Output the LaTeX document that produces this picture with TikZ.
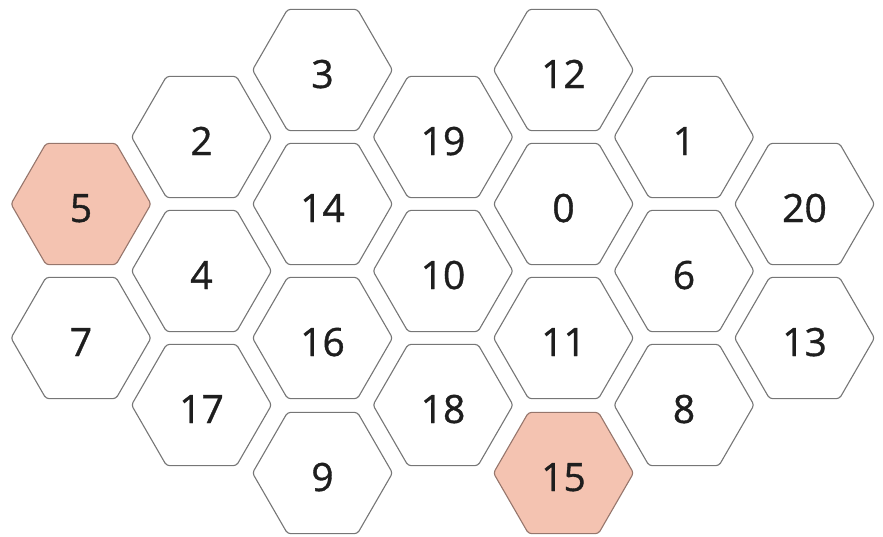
\documentclass[tikz,border=0pt]{standalone}
\usepackage{fontspec}
\setmainfont{Open Sans}
\newfontfamily\hexfont[FakeBold=0.9]{Open Sans}
\usetikzlibrary{shapes.geometric}
\usepackage{xcolor}
\definecolor{hexborder}{RGB}{118,118,118}
\definecolor{hexpicked}{RGB}{244,195,177}
\definecolor{pickedborder}{RGB}{150,118,108}
\definecolor{hextext}{RGB}{30,30,30}

\begin{document}
\begin{tikzpicture}[x=1pt, y=-1pt]
  \tikzset{
    hexcell/.style={
      draw=hexborder,
      line width=1.1pt,
      regular polygon,
      regular polygon sides=6,
      minimum size=140pt,
      inner sep=0pt,
      rounded corners=3pt,
      fill=white,
      text=hextext,
      text height=36pt,
      text depth=0pt,
      font=\hexfont\fontsize{39}{44}\selectfont
    },
    picked/.style={
      hexcell,
      draw=pickedborder,
      fill=hexpicked
    }
  }
  \useasboundingbox (0,0) rectangle (883,536);

  % First column
    \node[picked] at (81, 204) (hex5) {5};
    \node[hexcell] at (81, 338) (hex7) {7};

  % Second column
    \node[hexcell] at (201.5, 137) (hex2) {2};
    \node[hexcell] at (201.5, 271) (hex4) {4};
    \node[hexcell] at (201.5, 405) (hex17) {17};

  % Third column
    \node[hexcell] at (322.5, 70) (hex3) {3};
    \node[hexcell] at (322.5, 204) (hex14) {14};
    \node[hexcell] at (322.5, 338) (hex16) {16};
    \node[hexcell] at (322.5, 473) (hex9) {9};

  % Fourth column
    \node[hexcell] at (443, 137) (hex19) {19};
    \node[hexcell] at (443, 271) (hex10) {10};
    \node[hexcell] at (443, 405) (hex18) {18};

  % Fifth column
    \node[hexcell] at (563.5, 70) (hex12) {12};
    \node[hexcell] at (563.5, 204) (hex0) {0};
    \node[hexcell] at (563.5, 338) (hex11) {11};
    \node[picked] at (563.5, 473) (hex15) {15};

  % Sixth column
    \node[hexcell] at (684, 137) (hex1) {1};
    \node[hexcell] at (684, 271) (hex6) {6};
    \node[hexcell] at (684, 405) (hex8) {8};

  % Last column
    \node[hexcell] at (804.5, 204) (hex20) {20};
    \node[hexcell] at (804.5, 338) (hex13) {13};

\end{tikzpicture}
\end{document}
